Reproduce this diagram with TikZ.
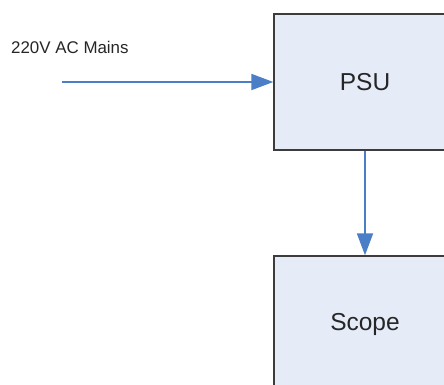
\documentclass[tikz,border=0pt]{standalone}
\usepackage{fontspec}
\setmainfont{Liberation Sans}
\usetikzlibrary{arrows.meta}
\definecolor{boxfill}{HTML}{E6ECF7}
\definecolor{boxline}{HTML}{3C3C3C}
\definecolor{arrowblue}{HTML}{4A7EC7}
\definecolor{txt}{HTML}{262626}
\begin{document}
\begin{tikzpicture}[x=1pt,y=-1pt,
  blockbox/.style={draw=boxline,fill=boxfill,line width=1.4pt,minimum width=182pt,minimum height=136pt,inner sep=0pt,text=txt,font=\fontsize{24.5}{28}\selectfont},
  flow/.style={draw=arrowblue,line width=2pt,-{Triangle[length=22pt,width=16pt]}}]
\useasboundingbox (0,0) rectangle (444,385);
\clip (0,0) rectangle (444,385);
\node[blockbox] (psu) at (365,82) {PSU};
\node[blockbox] (scope) at (365,324) {Scope};
\node[anchor=west,inner sep=0pt,text=txt,font=\fontsize{16.9}{20}\selectfont] (lbl) at (11,47) {220V AC Mains};
\coordinate (src) at (62,82);
\draw[flow] (src) -- (psu.west);
\draw[flow] (psu.south) -- (scope.north);
\end{tikzpicture}
\end{document}
